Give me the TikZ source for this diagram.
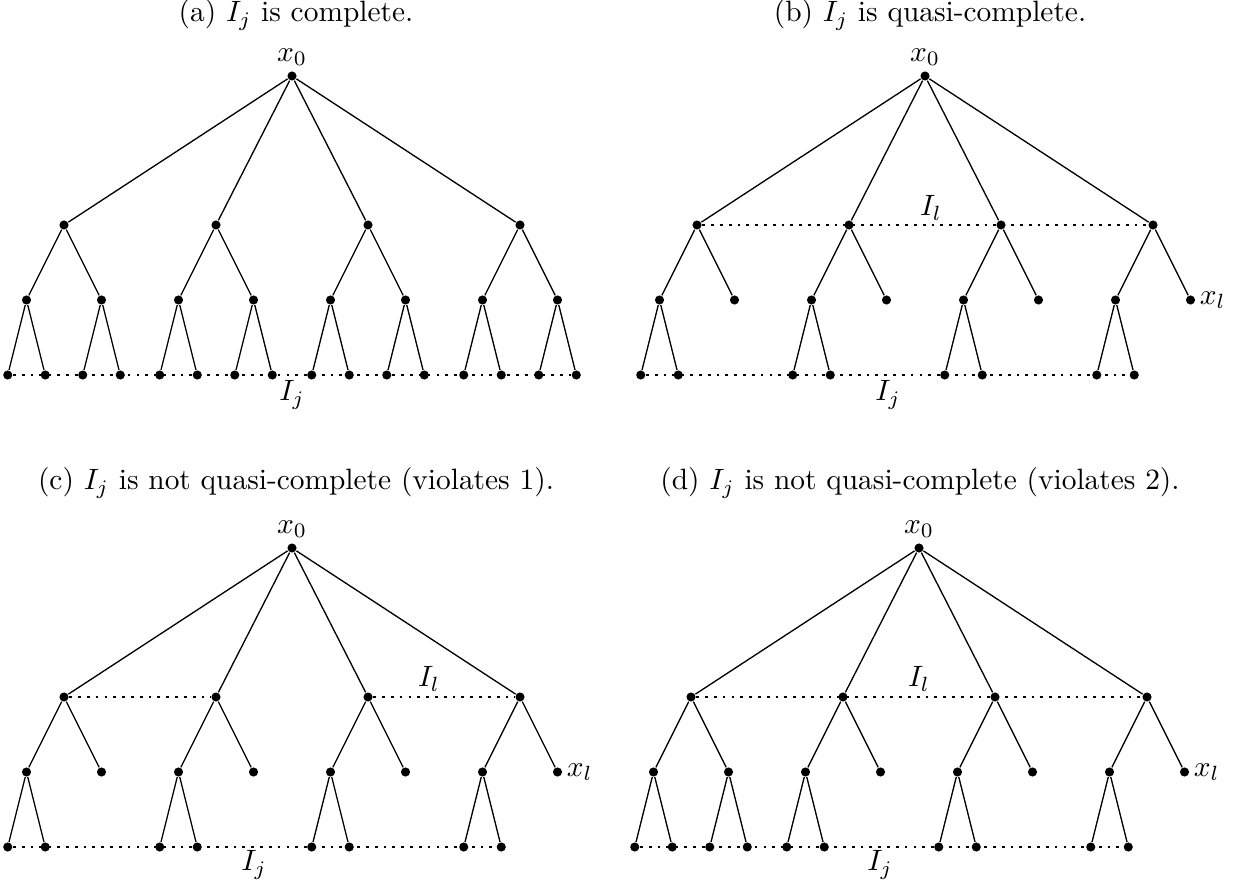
\documentclass[tikz,border=0pt]{standalone}
\usetikzlibrary{calc}
\tikzset{
  vtx/.style={circle, fill=black, inner sep=0pt, minimum size=3.1pt},
  lvl/.style={line width=0.95pt, dash pattern=on 0.95pt off 2.05pt},
  xlab/.style={anchor=west, inner sep=1.2pt},
}
\begin{document}
\begin{tikzpicture}[x=0.34pt, y=-0.34pt, line width=0.45pt]
\path[use as bounding box] (0,0) rectangle (1238,885);

% titles
\node (ta) at (296,15) {(a) $I_j$ is complete.};
\node (tb) at (930,15) {(b) $I_j$ is quasi-complete.};
\node (tc) at (296,483) {(c) $I_j$ is not quasi-complete (violates 1).};
\node (td) at (920,483) {(d) $I_j$ is not quasi-complete (violates 2).};

% ---------------- (a)
\begin{scope}[shift={(292,76)}]
  \node[vtx] (aR) at (0,0) {};
  \node (ax0) at (0,-19) {$x_0$};
  \foreach \i/\x in {1/-228,2/-76,3/76,4/228}{
    \node[vtx] (a\i) at (\x,149) {};
    \draw (aR) -- (a\i);
    \foreach \s/\d in {L/-37.5,R/37.5}{
      \node[vtx] (a\i\s) at ({\x+\d},224) {};
      \draw (a\i) -- (a\i\s);
      \node[vtx] (a\i\s a) at ({\x+\d-18.75},299) {};
      \node[vtx] (a\i\s b) at ({\x+\d+18.75},299) {};
      \draw (a\i\s) -- (a\i\s a) (a\i\s) -- (a\i\s b);
    }
  }
  \draw[lvl] (a1La) -- (a4Rb);
  \node (aIj) at (0,319) {$I_j$};
\end{scope}

% ---------------- (b)
\begin{scope}[shift={(925,76)}]
  \node[vtx] (bR) at (0,0) {};
  \node (bx0) at (0,-19) {$x_0$};
  \foreach \i/\x in {1/-228,2/-76,3/76,4/228}{
    \node[vtx] (b\i) at (\x,149) {};
    \draw (bR) -- (b\i);
    \node[vtx] (b\i L) at ({\x-37.5},224) {};
    \node[vtx] (b\i R) at ({\x+37.5},224) {};
    \draw (b\i) -- (b\i L) (b\i) -- (b\i R);
    \node[vtx] (b\i La) at ({\x-37.5-18.75},299) {};
    \node[vtx] (b\i Lb) at ({\x-37.5+18.75},299) {};
    \draw (b\i L) -- (b\i La) (b\i L) -- (b\i Lb);
  }
  \draw[lvl] (b1) -- (b4);
  \draw[lvl] (b1La) -- (b4Lb);
  \node (bIl) at (6,132) {$I_l$};
  \node[xlab] (bxl) at (b4R.east) {$x_l$};
  \node (bIj) at (-37,319) {$I_j$};
\end{scope}

% ---------------- (c)
\begin{scope}[shift={(292,548)}]
  \node[vtx] (cR) at (0,0) {};
  \node (cx0) at (0,-19) {$x_0$};
  \foreach \i/\x in {1/-228,2/-76,3/76,4/228}{
    \node[vtx] (c\i) at (\x,149) {};
    \draw (cR) -- (c\i);
    \node[vtx] (c\i L) at ({\x-37.5},224) {};
    \node[vtx] (c\i R) at ({\x+37.5},224) {};
    \draw (c\i) -- (c\i L) (c\i) -- (c\i R);
    \node[vtx] (c\i La) at ({\x-37.5-18.75},299) {};
    \node[vtx] (c\i Lb) at ({\x-37.5+18.75},299) {};
    \draw (c\i L) -- (c\i La) (c\i L) -- (c\i Lb);
  }
  \draw[lvl] (c1) -- (c2);
  \draw[lvl] (c3) -- (c4);
  \draw[lvl] (c1La) -- (c4Lb);
  \node (cIl) at (137,131) {$I_l$};
  \node[xlab] (cxl) at (c4R.east) {$x_l$};
  \node (cIj) at (-38,317) {$I_j$};
\end{scope}

% ---------------- (d)
\begin{scope}[shift={(919,548)}]
  \node[vtx] (dR) at (0,0) {};
  \node (dx0) at (0,-19) {$x_0$};
  \foreach \i/\x in {1/-228,2/-76,3/76,4/228}{
    \node[vtx] (d\i) at (\x,149) {};
    \draw (dR) -- (d\i);
    \node[vtx] (d\i L) at ({\x-37.5},224) {};
    \node[vtx] (d\i R) at ({\x+37.5},224) {};
    \draw (d\i) -- (d\i L) (d\i) -- (d\i R);
    \node[vtx] (d\i La) at ({\x-37.5-18.75},299) {};
    \node[vtx] (d\i Lb) at ({\x-37.5+18.75},299) {};
    \draw (d\i L) -- (d\i La) (d\i L) -- (d\i Lb);
  }
  \node[vtx] (d1Ra) at ({-228+37.5-18.75},299) {};
  \node[vtx] (d1Rb) at ({-228+37.5+18.75},299) {};
  \draw (d1R) -- (d1Ra) (d1R) -- (d1Rb);
  \draw[lvl] (d1) -- (d4);
  \draw[lvl] (d1La) -- (d4Lb);
  \node (dIl) at (0,131) {$I_l$};
  \node[xlab] (dxl) at (d4R.east) {$x_l$};
  \node (dIj) at (-39,317) {$I_j$};
\end{scope}
\end{tikzpicture}
\end{document}
